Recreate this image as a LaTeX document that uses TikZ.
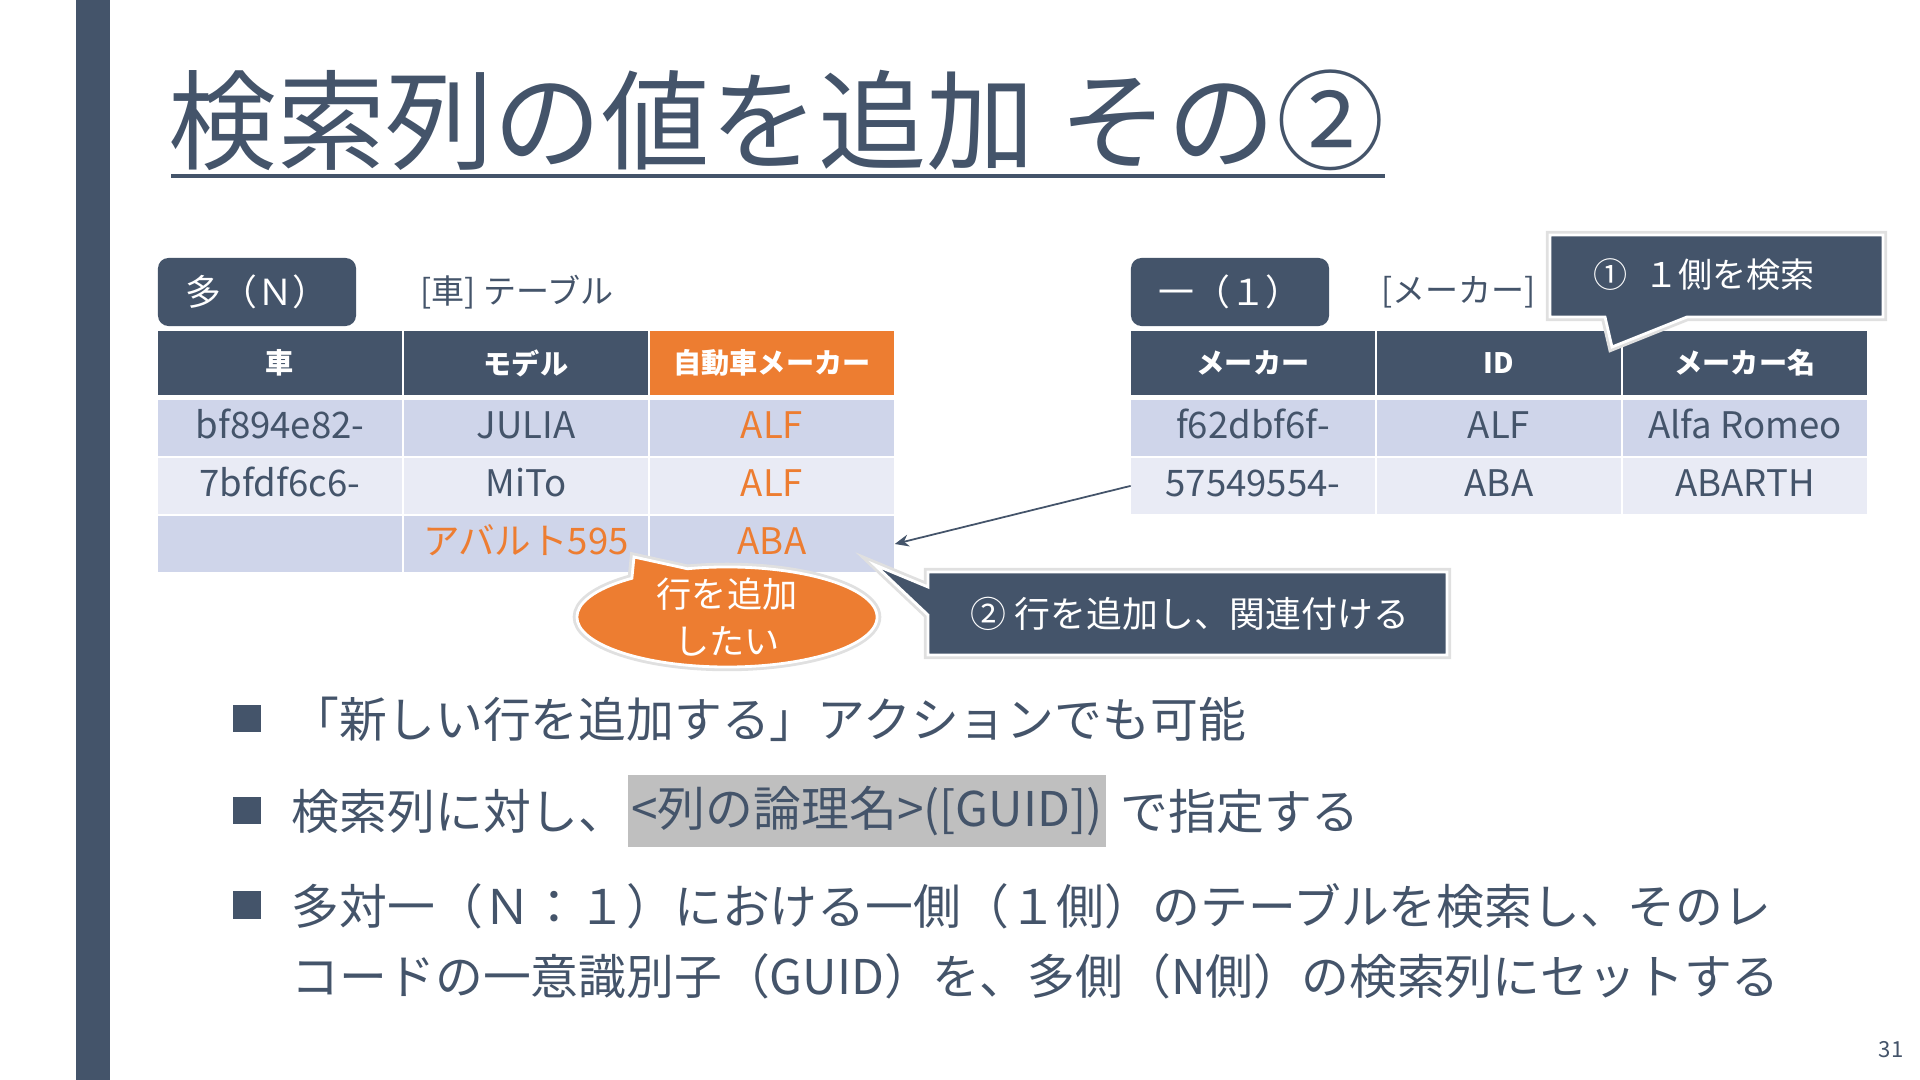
\documentclass[tikz,border=0pt]{standalone}
\usepackage{fontspec}
\setmainfont{Noto Sans CJK JP}
\usetikzlibrary{arrows.meta,positioning,shapes.callouts}
\definecolor{slate}{HTML}{44546A}
\definecolor{tangerine}{HTML}{ED7D31}
\definecolor{rowdark}{HTML}{CFD5EA}
\definecolor{rowlight}{HTML}{E9EBF5}
\definecolor{markgray}{HTML}{BFBFBF}

\begin{document}
\begin{tikzpicture}[x=0.01cm,y=-0.01cm,line cap=round,
  headcell/.style={fill=slate,text=white,minimum width=2.44cm,minimum height=0.64cm,inner sep=0,font=\fontsize{8}{10}\selectfont\bfseries},
  cell/.style={text=slate,minimum width=2.44cm,minimum height=0.55cm,inner sep=0,text height=0.72em,text depth=0.15em,font=\fontsize{10.4}{12}\selectfont},
  tag/.style={fill=slate,text=white,rounded corners=3pt,minimum width=1.98cm,minimum height=0.68cm,inner sep=0,font=\fontsize{10.2}{12}\selectfont},
  tabletitle/.style={text=slate,inner sep=0,font=\fontsize{9.4}{11}\selectfont},
  balloon/.style={fill=slate,draw=white,line width=0.8pt,line cap=butt,preaction={draw=black!12,line width=2.4pt}},
  balloontext/.style={text=white,inner sep=0},
  bodytext/.style={text=slate,inner sep=0,font=\fontsize{13.6}{19.9}\selectfont},
  bulletsq/.style={fill=slate,minimum size=0.27cm,inner sep=0},
  link/.style={-{Stealth[length=4pt,width=3.4pt]},draw=slate,line width=0.5pt}]
  \useasboundingbox (0,0) rectangle (1920,1080);
  \fill[white] (0,0) rectangle (1920,1080);
  \fill[slate] (76,0) rectangle (110,1080);
  % title
  \node[text=slate,inner sep=0,anchor=west,font=\fontsize{30.8}{36}\selectfont] (title) at (168,120) {検索列の値を追加 その②};
  \draw[slate,line width=1.4pt,line cap=butt] (171,176) -- (1385,176);
  % N side
  \node[tag] (many) at (257,292) {多（Ｎ）};
  \node[tabletitle,right=0.63cm of many] (cartitle) {[車] テーブル};
  \foreach \x/\c/\txt in {280/1/車,526/2/モデル}
    \node[headcell] (car-0\c) at (\x,363) {\txt};
  \node[headcell,fill=tangerine] (car-03) at (772,363) {自動車メーカー};
  \foreach \y/\row/\shade/\a/\b in {428/1/rowdark/bf894e82-/JULIA,486/2/rowlight/7bfdf6c6-/MiTo}{
    \node[cell,fill=\shade] (car-\row1) at (280,\y) {\a};
    \node[cell,fill=\shade] (car-\row2) at (526,\y) {\b};
    \node[cell,fill=\shade,text=tangerine] (car-\row3) at (772,\y) {ALF};
  }
  \node[cell,fill=rowdark] (car-31) at (280,544) {};
  \node[cell,fill=rowdark,text=tangerine] (car-32) at (526,544) {アバルト595};
  \node[cell,fill=rowdark,text=tangerine] (car-33) at (772,544) {ABA};
  % 1 side
  \node[tag] (one) at (1230,292) {一（１）};
  \node[tabletitle,right=0.51cm of one] (makertitle) {[メーカー]};
  \foreach \x/\c/\txt in {1253/1/メーカー,1499/2/ID,1745/3/メーカー名}
    \node[headcell] (maker-0\c) at (\x,363) {\txt};
  \foreach \y/\row/\shade/\a/\b/\n in {428/1/rowdark/f62dbf6f-/ALF/Alfa Romeo,486/2/rowlight/57549554-/ABA/ABARTH}{
    \node[cell,fill=\shade] (maker-\row1) at (1253,\y) {\a};
    \node[cell,fill=\shade] (maker-\row2) at (1499,\y) {\b};
    \node[cell,fill=\shade] (maker-\row3) at (1745,\y) {\n};
  }
  \draw[link] (maker-21.west) -- (car-33.east);
  % callouts
  \node[ellipse callout,balloon,fill=tangerine,minimum width=3cm,minimum height=1cm,inner sep=0,
        callout absolute pointer={(634,557)},callout pointer arc=24] (wish) at (727,617) {};
  \node[balloontext,align=center,font=\fontsize{10}{13.4}\selectfont] (wishtext) at (wish.center) {行を追加\\したい};
  \path[balloon] (928,572) -- (1447,572) -- (1447,655) -- (928,655) -- (928,615) -- (875,565) -- (928,587) -- cycle;
  \node[balloontext,font=\fontsize{10.2}{12}\selectfont] (step2) at (1190,614) {② 行を追加し、関連付ける};
  \path[balloon] (1550,235) -- (1883,235) -- (1883,317) -- (1687,317) -- (1612,347) -- (1605,317) -- (1550,317) -- cycle;
  \node[balloontext,font=\fontsize{9.7}{12}\selectfont] (step1) at (1704,275) {①\hspace{0.5em}１側を検索};
  % bullets
  \foreach \y/\k in {719/1,811/2,905/3}
    \node[bulletsq] (sq\k) at (247,\y) {};
  \node[bodytext,anchor=west] (item1) at (291,719) {「新しい行を追加する」アクションでも可能};
  \node[bodytext,anchor=west] (item2) at (291,811) {検索列に対し、};
  \node[bodytext,fill=markgray,minimum height=0.72cm,inner xsep=1pt,right=0pt of item2] (item2code) {<列の論理名>([GUID])};
  \node[bodytext,right=0.13cm of item2code] (item2end) {で指定する};
  \node[bodytext,anchor=west,align=left] (item3) at (291,941) {多対一（Ｎ：１）における一側（１側）のテーブルを検索し、そのレ\\コードの一意識別子（GUID）を、多側（N側）の検索列にセットする};
  \node[text=slate,inner sep=0,font=\fontsize{6.3}{7}\selectfont] (page) at (1891,1050) {31};
\end{tikzpicture}
\end{document}
